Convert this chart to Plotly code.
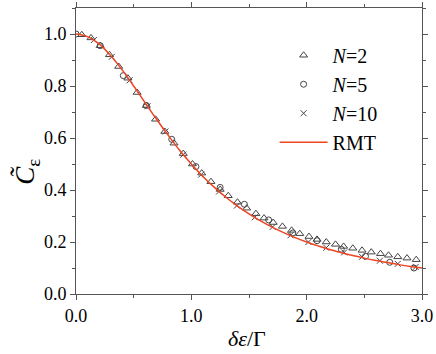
import plotly.graph_objects as go

# RMT curve
rmt_x = [0.0, 0.1, 0.2, 0.3, 0.4, 0.5, 0.6, 0.7, 0.8, 0.9, 1.0, 1.1, 1.2, 1.3, 1.4, 1.5,
         1.6, 1.7, 1.8, 1.9, 2.0, 2.1, 2.2, 2.3, 2.4, 2.5, 2.6, 2.7, 2.8, 2.9, 3.0]
rmt_y = [1.0, 0.990, 0.962, 0.917, 0.862, 0.800, 0.735, 0.671, 0.610, 0.552, 0.500,
         0.452, 0.410, 0.372, 0.338, 0.308, 0.281, 0.257, 0.236, 0.217, 0.200, 0.185,
         0.171, 0.159, 0.148, 0.138, 0.129, 0.121, 0.113, 0.106, 0.100]

# N=2 (triangles)
n2_x = [0.05, 0.13, 0.21, 0.29, 0.37, 0.45, 0.53, 0.61, 0.69, 0.77, 0.85, 0.93, 1.01,
        1.09, 1.17, 1.25, 1.32, 1.40, 1.48, 1.56, 1.63, 1.71, 1.79, 1.87, 1.94, 2.02,
        2.09, 2.17, 2.25, 2.32, 2.40, 2.48, 2.56, 2.64, 2.71, 2.79, 2.87, 2.95]
n2_y = [0.997, 0.985, 0.955, 0.920, 0.875, 0.830, 0.775, 0.725, 0.672, 0.625, 0.580,
        0.540, 0.500, 0.465, 0.432, 0.402, 0.378, 0.353, 0.330, 0.309, 0.292, 0.275,
        0.260, 0.245, 0.232, 0.221, 0.210, 0.200, 0.191, 0.183, 0.176, 0.168, 0.161,
        0.155, 0.149, 0.143, 0.138, 0.132]

# N=5 (circles)
n5_x = [0.0, 0.21, 0.41, 0.61, 0.83, 1.04, 1.25, 1.46, 1.67, 1.88, 2.09, 2.30, 2.51,
        2.72, 2.93]
n5_y = [1.0, 0.955, 0.840, 0.725, 0.595, 0.490, 0.410, 0.345, 0.285, 0.235, 0.205,
        0.172, 0.145, 0.122, 0.100]

# N=10 (crosses)
n10_x = [0.155, 0.31, 0.465, 0.62, 0.775, 0.93, 1.085, 1.24, 1.395, 1.55, 1.705, 1.86,
         2.015, 2.17, 2.325, 2.48, 2.635, 2.79, 2.945]
n10_y = [0.977, 0.912, 0.822, 0.722, 0.625, 0.536, 0.459, 0.394, 0.340, 0.295, 0.258,
         0.226, 0.200, 0.178, 0.160, 0.143, 0.128, 0.116, 0.104]

FONT = "Liberation Serif, Times New Roman, serif"
GREY = "#444444"

fig = go.Figure()
fig.add_trace(go.Scatter(x=n2_x, y=n2_y, mode="markers", name="<i>N</i>=2",
                         marker=dict(symbol="triangle-up-open", size=7, color=GREY,
                                     line=dict(width=1))))
fig.add_trace(go.Scatter(x=n5_x, y=n5_y, mode="markers", name="<i>N</i>=5",
                         marker=dict(symbol="circle-open", size=6, color=GREY,
                                     line=dict(width=1))))
fig.add_trace(go.Scatter(x=n10_x, y=n10_y, mode="markers", name="<i>N</i>=10",
                         marker=dict(symbol="x-thin-open", size=6, color=GREY,
                                     line=dict(width=1, color=GREY))))
fig.add_trace(go.Scatter(x=rmt_x, y=rmt_y, mode="lines", name="RMT",
                         line=dict(color="#ee4422", width=1.5, shape="spline")))

axis_common = dict(showline=True, linecolor="#555555", linewidth=1, mirror="ticks",
                   ticks="outside", ticklen=5, tickcolor="#555555", showgrid=False,
                   zeroline=False, automargin=False,
                   tickfont=dict(family=FONT, size=18, color="black"),
                   tickformat=".1f")

fig.update_xaxes(range=[0, 3], dtick=1, **axis_common,
                 minor=dict(dtick=0.5, ticks="outside", ticklen=3, tickcolor="#555555"))
fig.update_yaxes(range=[0, 1.1], dtick=0.2, **axis_common,
                 minor=dict(dtick=0.1, ticks="outside", ticklen=3, tickcolor="#555555"))

# axis titles
fig.add_annotation(x=-0.142, y=0.427, xref="paper", yref="paper", textangle=-90,
                   xanchor="center", yanchor="middle",
                   text="<i>C̃</i><sub>ε</sub>", showarrow=False,
                   font=dict(family=FONT, size=27, color="black"))
fig.add_annotation(x=0.494, y=-0.154, xref="paper", yref="paper",
                   xanchor="center", yanchor="middle",
                   text="<i>δε</i>/Γ", showarrow=False,
                   font=dict(family=FONT, size=22, color="black"))

fig.update_layout(
    width=436, height=354,
    margin=dict(l=76, r=14, t=8, b=60),
    plot_bgcolor="white", paper_bgcolor="white",
    legend=dict(x=0.574, y=0.903, xanchor="left", yanchor="top", bgcolor="rgba(0,0,0,0)",
                itemwidth=48, font=dict(family=FONT, size=20, color="black"),
                tracegroupgap=0),
)

fig.write_html("out.html", config={"displayModeBar": False},
               post_script="document.body.style.margin='0';")
